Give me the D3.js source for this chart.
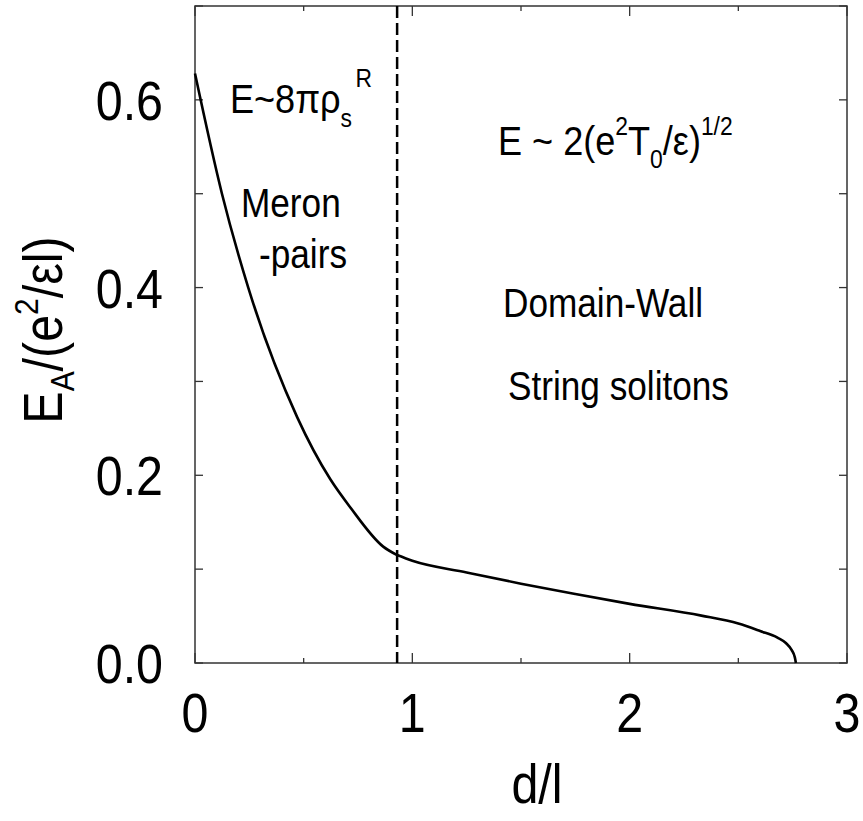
<!DOCTYPE html>
<html><head><meta charset="utf-8">
<script src="https://cdn.jsdelivr.net/npm/d3@7/dist/d3.min.js"></script>
<style>body{margin:0;background:#fff}svg{display:block}text{font-family:"Liberation Sans",Arial,sans-serif;fill:#000}</style>
</head><body>
<script>
// Meron-pair branch (d < boundary)
const dMeron = [0, 0.124, 0.245, 0.47, 0.622, 0.714, 0.866, 0.93];
const eMeron = [0.628, 0.5, 0.4, 0.262, 0.196, 0.166, 0.124, 0.115];
// Domain-wall / string soliton branch (d > boundary)
const dWall = [0.93, 1.0, 1.25, 1.5, 1.75, 2.0, 2.33, 2.5, 2.6, 2.68, 2.72, 2.745, 2.76, 2.765];
const eWall = [0.115, 0.1089, 0.0965, 0.0845, 0.0735, 0.063, 0.0505, 0.042, 0.034, 0.027, 0.021, 0.014, 0.006, 0.0];
const xTickLabels = [0, 1, 2, 3];
const yTickLabels = ["0.0", "0.2", "0.4", "0.6"];
const yTickVals = [0, 0.2, 0.4, 0.6];
const boundary = 0.93;

const W = 863, H = 821;
const m = {l:195, r:16, t:6, b:158};
const svg = d3.select("body").append("svg").attr("width", W).attr("height", H);
const x = d3.scaleLinear().domain([0,3]).range([m.l, W - m.r]);
const y = d3.scaleLinear().domain([0,0.7]).range([H - m.b, m.t]);
const SX = 0.88;

function label(px, py, anchor, size, parts, rotate) {
  const g = svg.append("g").attr("transform", `translate(${px},${py})` + (rotate ? ` rotate(${rotate})` : "") + ` scale(${SX},1)`);
  const t = g.append("text").attr("text-anchor", anchor).attr("font-size", size);
  parts.forEach(p => {
    const ts = t.append("tspan").text(p.t);
    if (p.dy) ts.attr("dy", p.dy);
    if (p.fs) ts.attr("font-size", p.fs);
    if (p.dx) ts.attr("dx", p.dx);
  });
  return t;
}

// frame
const axCol = "#333";
svg.append("rect").attr("x", x(0)).attr("y", y(0.7)).attr("width", x(3)-x(0)).attr("height", y(0)-y(0.7))
  .attr("fill","none").attr("stroke",axCol).attr("stroke-width",1.5);

// ticks, mirrored on all four sides, pointing inward
const xt = d3.range(0, 3.01, 0.5);
xt.forEach(v => {
  const len = Number.isInteger(v) ? 10 : 5;
  svg.append("line").attr("x1",x(v)).attr("x2",x(v)).attr("y1",y(0)).attr("y2",y(0)-len).attr("stroke",axCol).attr("stroke-width",1.3);
  svg.append("line").attr("x1",x(v)).attr("x2",x(v)).attr("y1",y(0.7)).attr("y2",y(0.7)+len).attr("stroke",axCol).attr("stroke-width",1.3);
});
const yt = d3.range(0, 0.71, 0.1);
yt.forEach(v => {
  svg.append("line").attr("x1",x(0)).attr("x2",x(0)+8).attr("y1",y(v)).attr("y2",y(v)).attr("stroke",axCol).attr("stroke-width",1.3);
  svg.append("line").attr("x1",x(3)).attr("x2",x(3)-8).attr("y1",y(v)).attr("y2",y(v)).attr("stroke",axCol).attr("stroke-width",1.3);
});

// tick labels
xTickLabels.forEach(v => label(x(v), 732, "middle", 55, [{t:String(v)}]));
yTickLabels.forEach((s,i) => label(163, y(yTickVals[i]) + 20, "end", 55, [{t:s}]));

// dashed boundary
svg.append("line").attr("x1",x(boundary)).attr("x2",x(boundary)).attr("y1",y(0.7)).attr("y2",y(0))
  .attr("stroke","#000").attr("stroke-width",2.5).attr("stroke-dasharray","12,5");

// curves
const line = d3.line().x(p=>x(p[0])).y(p=>y(p[1])).curve(d3.curveMonotoneX);
[[dMeron, eMeron], [dWall, eWall]].forEach(([ds, es]) => {
  svg.append("path").datum(ds.map((d,i)=>[d, es[i]]))
    .attr("d", line).attr("fill","none").attr("stroke","#000").attr("stroke-width",2.6)
    .attr("stroke-linejoin","round");
});

// annotations
label(230, 113, "start", 41, [{t:"E~8πρ"},{t:"s",fs:26,dy:14},{t:"R",fs:26,dy:-40,dx:4}]);
label(241, 217, "start", 40, [{t:"Meron"}]);
label(259, 268, "start", 40, [{t:"-pairs"}]);
label(498, 155, "start", 41, [{t:"E ~ 2(e"},{t:"2",fs:26,dy:-20},{t:"T",dy:20},{t:"0",fs:26,dy:13},{t:"/ε)",dy:-13},{t:"1/2",fs:26,dy:-20}]);
label(503, 317, "start", 40, [{t:"Domain-Wall"}]);
label(508, 400, "start", 40, [{t:"String solitons"}]);

// axis titles
label(537, 803, "middle", 55, [{t:"d/l"}]);
label(62, 330, "middle", 55, [{t:"E"},{t:"A",fs:34,dy:12},{t:"/(e",dy:-12},{t:"2",fs:34,dy:-24},{t:"/εl)",dy:24}], -90);
</script>
</body></html>
